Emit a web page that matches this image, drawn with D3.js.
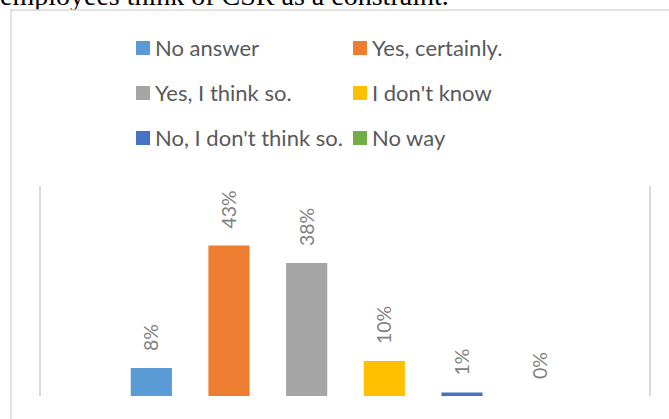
<!DOCTYPE html>
<html>
<head>
<meta charset="utf-8">
<script src="https://cdn.jsdelivr.net/npm/d3@7"></script>
<style>
  html, body { margin: 0; padding: 0; background: #fff; }
  svg { display: block; }
</style>
</head>
<body>
<svg id="chart" width="669" height="419"></svg>
<script>
// Survey answers and their shares
const categories = ["No answer", "Yes, certainly.", "Yes, I think so.", "I don't know", "No, I don't think so.", "No way"];
const values = [0.08, 0.43, 0.38, 0.10, 0.01, 0.00];
const valueLabels = ["8%", "43%", "38%", "10%", "1%", "0%"];
const colors = ["#5b9bd5", "#ed7d31", "#a5a5a5", "#ffc000", "#4472c4", "#70ad47"];
const captionText = "employees think of CSR as a constraint.";

const svg = d3.select("#chart");
const W = 669, H = 419;
const labelFont = "Lato, 'Open Sans', sans-serif";

// Caption line running off the top edge
svg.append("text")
  .attr("x", 0).attr("y", 5)
  .attr("font-family", "'Liberation Serif', 'Times New Roman', serif")
  .attr("font-size", 28)
  .attr("fill", "#000")
  .text(captionText);

// Chart frame
svg.append("rect")
  .attr("x", 11).attr("y", 10)
  .attr("width", W + 20).attr("height", H + 20)
  .attr("fill", "#fff")
  .attr("stroke", "#d9d9d9").attr("stroke-width", 1.5);

// Scales
const x = d3.scaleBand()
  .domain(categories)
  .range([112.5, 578.5])
  .paddingInner(0.47)
  .paddingOuter(0.235);

const y = d3.scaleLinear()
  .domain([0, 0.6])
  .range([396, 186]);

// Plot-area side lines
[40, 650].forEach(px => {
  svg.append("line")
    .attr("x1", px).attr("x2", px)
    .attr("y1", y(0.6)).attr("y2", y(0))
    .attr("stroke", "#d9d9d9").attr("stroke-width", 2);
});

// Bars
svg.append("g").selectAll("rect")
  .data(categories)
  .join("rect")
  .attr("x", d => x(d))
  .attr("width", x.bandwidth())
  .attr("y", (d, i) => y(values[i]))
  .attr("height", (d, i) => y(0) - y(values[i]))
  .attr("fill", (d, i) => colors[i]);

// Rotated value labels above each bar
svg.append("g").selectAll("text")
  .data(categories)
  .join("text")
  .attr("transform", (d, i) => `translate(${x(d) + x.bandwidth() / 2 + 7},${y(values[i]) - 17}) rotate(-90)`)
  .attr("text-anchor", "start")
  .attr("font-family", labelFont)
  .attr("font-size", 19.5)
  .attr("fill", "#808080")
  .text((d, i) => valueLabels[i]);

// Legend: two columns, three rows
const legendCols = [136, 353];
const legendRows = [48, 93, 138];
const legend = svg.append("g").selectAll("g")
  .data(categories)
  .join("g")
  .attr("transform", (d, i) => `translate(${legendCols[i % 2]},${legendRows[Math.floor(i / 2)]})`);

legend.append("rect")
  .attr("x", 0).attr("y", -7)
  .attr("width", 14).attr("height", 14)
  .attr("fill", (d, i) => colors[i]);

legend.append("text")
  .attr("x", 19).attr("y", 0)
  .attr("dy", "0.35em")
  .attr("font-family", labelFont)
  .attr("font-size", 22)
  .attr("fill", "#595959")
  .text(d => d);
</script>
</body>
</html>
